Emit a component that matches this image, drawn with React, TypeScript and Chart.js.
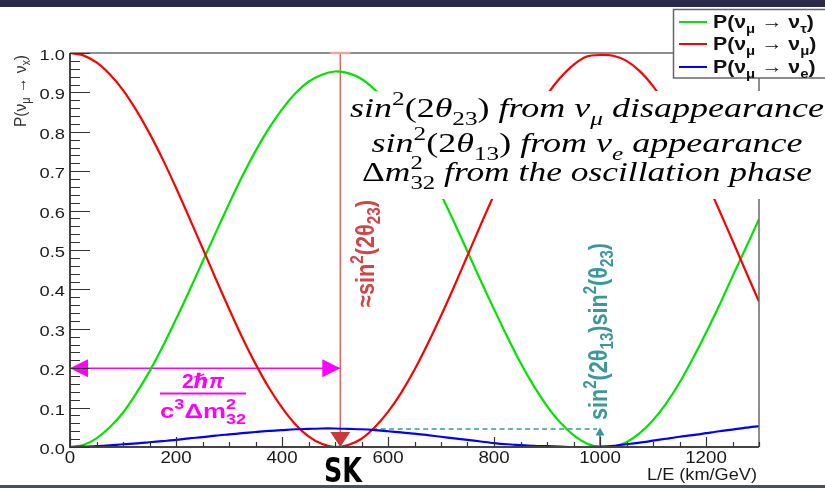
import { useEffect, useRef } from 'react';
import { Chart, registerables } from 'chart.js';

Chart.register(...registerables);

// L/E sampling (km/GeV)
const LE = [
  0, 25, 50, 75, 100, 125, 150, 175, 200, 225, 250, 275, 300, 325, 350, 375, 400, 425, 450, 475,
  500, 525, 550, 575, 600, 625, 650, 675, 700, 725, 750, 775, 800, 825, 850, 875, 900, 925, 950, 975,
  1000, 1025, 1050, 1075, 1100, 1125, 1150, 1175, 1200, 1225, 1250, 1275, 1300,
];

// P(nu_mu -> nu_tau)
const P_MU_TAU = [
  0.0, 0.005, 0.022, 0.05, 0.087, 0.136, 0.192, 0.255, 0.324, 0.396, 0.47, 0.544, 0.617, 0.687, 0.751, 0.808, 0.857, 0.897, 0.927, 0.945,
  0.953, 0.949, 0.934, 0.907, 0.871, 0.825, 0.77, 0.708, 0.641, 0.57, 0.496, 0.422, 0.35, 0.28, 0.214, 0.155, 0.104, 0.062, 0.03, 0.009,
  0.0, 0.001, 0.012, 0.035, 0.068, 0.111, 0.163, 0.224, 0.29, 0.359, 0.433, 0.505, 0.578,
];

// P(nu_mu -> nu_mu)
const P_MU_MU = [
  1.0, 0.994, 0.976, 0.946, 0.906, 0.855, 0.796, 0.73, 0.658, 0.582, 0.505, 0.427, 0.351, 0.278, 0.211, 0.151, 0.1, 0.058, 0.027, 0.008,
  0.0, 0.005, 0.021, 0.05, 0.089, 0.138, 0.196, 0.262, 0.333, 0.408, 0.486, 0.564, 0.64, 0.713, 0.781, 0.842, 0.894, 0.937, 0.97, 0.991,
  0.995, 0.993, 0.98, 0.954, 0.916, 0.868, 0.811, 0.746, 0.676, 0.601, 0.524, 0.446, 0.369,
];

// P(nu_mu -> nu_e)
const P_MU_E = [
  0.0, 0.001, 0.002, 0.004, 0.007, 0.009, 0.012, 0.015, 0.018, 0.022, 0.025, 0.029, 0.032, 0.035, 0.038, 0.041, 0.043, 0.045, 0.046, 0.047,
  0.047, 0.046, 0.045, 0.043, 0.04, 0.037, 0.034, 0.03, 0.026, 0.022, 0.018, 0.014, 0.01, 0.007, 0.005, 0.003, 0.002, 0.001, 0.0, 0.0,
  0.001, 0.003, 0.007, 0.011, 0.016, 0.021, 0.026, 0.03, 0.035, 0.04, 0.044, 0.049, 0.053,
];

const X_TICK_VALUES = [0, 200, 400, 600, 800, 1000, 1200];
const X_TICK_LABELS = ['0', '200', '400', '600', '800', '1000', '1200'];
const Y_TICK_VALUES = [0, 0.1, 0.2, 0.3, 0.4, 0.5, 0.6, 0.7, 0.8, 0.9, 1.0];
const Y_TICK_LABELS = ['0.0', '0.1', '0.2', '0.3', '0.4', '0.5', '0.6', '0.7', '0.8', '0.9', '1.0'];

// annotation values
const SK_LE = 510; // first oscillation maximum (Super-K baseline)
const PERIOD_ARROW_P = 0.2;
const NUE_LEVEL_P = 0.047;
const NUE_ARROW_LE = 1000;
const NUE_DASH_FROM_LE = 570;

const GREEN = '#00e400';
const RED = '#ff0000';
const BLUE = '#0000ff';
const MAGENTA = '#ff00ff';
const TEAL = '#3a9898';
const SK_RED = '#d04545';

const SANS = "'Liberation Sans', Arial, 'DejaVu Sans', sans-serif";
const SERIF = "'Liberation Serif', 'DejaVu Serif', serif";

type Run = { t?: string; it?: boolean; sup?: boolean; sub?: boolean; hi?: string; lo?: string };

interface RichOpts {
  x: number;
  y: number;
  size: number;
  family: string;
  bold?: boolean;
  color: string;
  align?: 'left' | 'center' | 'right';
  fit?: number;
  along?: number;
  sx?: number;
  rot?: number;
  subDrop?: number;
}

const fontOf = (size: number, it: boolean | undefined, bold: boolean | undefined, family: string) =>
  `${it ? 'italic ' : ''}${bold ? 'bold ' : ''}${size}px ${family}`;

function runWidth(ctx: CanvasRenderingContext2D, r: Run, o: RichOpts) {
  const small = o.size * 0.7;
  if (r.hi !== undefined || r.lo !== undefined) {
    ctx.font = fontOf(small, r.it, o.bold, o.family);
    return Math.max(ctx.measureText(r.hi || '').width, ctx.measureText(r.lo || '').width);
  }
  ctx.font = fontOf(r.sup || r.sub ? small : o.size, r.it, o.bold, o.family);
  return ctx.measureText(r.t || '').width;
}

function drawRich(ctx: CanvasRenderingContext2D, runs: Run[], o: RichOpts) {
  ctx.save();
  const widths = runs.map((r) => runWidth(ctx, r, o));
  const W = widths.reduce((a, b) => a + b, 0);
  const along = o.fit ? o.fit / W : o.along ?? 1;
  ctx.translate(o.x, o.y);
  ctx.scale(o.sx ?? 1, 1);
  if (o.rot) ctx.rotate(o.rot);
  ctx.scale(along, 1);
  let cx = o.align === 'right' ? -W : o.align === 'center' ? -W / 2 : 0;
  ctx.fillStyle = o.color;
  ctx.textBaseline = 'alphabetic';
  ctx.textAlign = 'left';
  const small = o.size * 0.7;
  const drop = o.subDrop ?? 0.25;
  runs.forEach((r, i) => {
    if (r.hi !== undefined || r.lo !== undefined) {
      ctx.font = fontOf(small, r.it, o.bold, o.family);
      if (r.hi) ctx.fillText(r.hi, cx, -o.size * 0.42);
      if (r.lo) ctx.fillText(r.lo, cx, o.size * 0.3);
    } else {
      ctx.font = fontOf(r.sup || r.sub ? small : o.size, r.it, o.bold, o.family);
      const dy = r.sup ? -o.size * 0.42 : r.sub ? o.size * drop : 0;
      ctx.fillText(r.t || '', cx, dy);
    }
    cx += widths[i];
  });
  ctx.restore();
}

const LEGEND_ENTRIES: { color: string; runs: Run[] }[] = [
  { color: GREEN, runs: [{ t: 'P(ν' }, { t: 'μ', sub: true }, { t: ' → ν' }, { t: 'τ', sub: true }, { t: ')' }] },
  { color: RED, runs: [{ t: 'P(ν' }, { t: 'μ', sub: true }, { t: ' → ν' }, { t: 'μ', sub: true }, { t: ')' }] },
  { color: BLUE, runs: [{ t: 'P(ν' }, { t: 'μ', sub: true }, { t: ' → ν' }, { t: 'e', sub: true }, { t: ')' }] },
];

const MEASUREMENT_LINES: { runs: Run[]; width: number; baseline: number }[] = [
  {
    runs: [
      { t: 'sin', it: true }, { t: '2', sup: true }, { t: '(2' }, { t: 'θ', it: true }, { t: '23', sub: true },
      { t: ') ' }, { t: 'from ν', it: true }, { t: 'μ', it: true, sub: true }, { t: ' disappearance', it: true },
    ],
    width: 474,
    baseline: 117,
  },
  {
    runs: [
      { t: 'sin', it: true }, { t: '2', sup: true }, { t: '(2' }, { t: 'θ', it: true }, { t: '13', sub: true },
      { t: ') ' }, { t: 'from ν', it: true }, { t: 'e', it: true, sub: true }, { t: ' appearance', it: true },
    ],
    width: 431,
    baseline: 152,
  },
  {
    runs: [{ t: 'Δ' }, { t: 'm', it: true }, { hi: '2', lo: '32' }, { t: ' from the oscillation phase', it: true }],
    width: 450,
    baseline: 181,
  },
];

const decor = {
  id: 'decor',
  beforeDraw(chart: Chart) {
    const ctx = chart.ctx;
    ctx.save();
    ctx.fillStyle = '#ffffff';
    ctx.fillRect(0, 0, chart.width, chart.height);
    ctx.restore();
  },
  beforeDatasetsDraw(chart: Chart) {
    const ctx = chart.ctx;
    const xs = chart.scales.x;
    const ys = chart.scales.y;
    const X = (v: number) => xs.getPixelForValue(v);
    const Y = (v: number) => ys.getPixelForValue(v);
    ctx.save();
    // oscillation period arrow
    ctx.strokeStyle = MAGENTA;
    ctx.lineWidth = 1.5;
    ctx.beginPath();
    ctx.moveTo(X(0), Y(PERIOD_ARROW_P));
    ctx.lineTo(X(SK_LE), Y(PERIOD_ARROW_P));
    ctx.stroke();
    // vertical marker at SK
    ctx.strokeStyle = '#e26262';
    ctx.lineWidth = 1.5;
    ctx.beginPath();
    ctx.moveTo(X(SK_LE), Y(1));
    ctx.lineTo(X(SK_LE), Y(0) - 12);
    ctx.stroke();
    // nu_e appearance level
    ctx.strokeStyle = TEAL;
    ctx.lineWidth = 1.5;
    ctx.setLineDash([5, 3.5]);
    ctx.beginPath();
    ctx.moveTo(X(NUE_DASH_FROM_LE), Y(NUE_LEVEL_P) + 0.5);
    ctx.lineTo(X(NUE_ARROW_LE) - 3, Y(NUE_LEVEL_P) + 0.5);
    ctx.stroke();
    ctx.restore();
  },
  afterDatasetsDraw(chart: Chart) {
    const ctx = chart.ctx;
    const xs = chart.scales.x;
    const ys = chart.scales.y;
    const X = (v: number) => xs.getPixelForValue(v);
    const Y = (v: number) => ys.getPixelForValue(v);
    const { left, right, top, bottom } = chart.chartArea;
    ctx.save();

    // magenta arrowheads
    ctx.fillStyle = MAGENTA;
    const ay = Y(PERIOD_ARROW_P);
    ctx.beginPath();
    ctx.moveTo(X(0), ay);
    ctx.lineTo(X(0) + 18, ay - 9);
    ctx.lineTo(X(0) + 18, ay + 9);
    ctx.closePath();
    ctx.fill();
    ctx.beginPath();
    ctx.moveTo(X(SK_LE), ay);
    ctx.lineTo(X(SK_LE) - 18, ay - 9);
    ctx.lineTo(X(SK_LE) - 18, ay + 9);
    ctx.closePath();
    ctx.fill();

    // downward arrowhead at SK
    ctx.fillStyle = '#c83a3a';
    ctx.beginPath();
    ctx.moveTo(X(SK_LE), Y(0));
    ctx.lineTo(X(SK_LE) - 10, Y(0) - 15);
    ctx.lineTo(X(SK_LE) + 10, Y(0) - 15);
    ctx.closePath();
    ctx.fill();

    // nu_e up arrow
    ctx.strokeStyle = TEAL;
    ctx.fillStyle = TEAL;
    ctx.lineWidth = 1.8;
    ctx.beginPath();
    ctx.moveTo(X(NUE_ARROW_LE), Y(0) - 1);
    ctx.lineTo(X(NUE_ARROW_LE), Y(NUE_LEVEL_P) + 6);
    ctx.stroke();
    ctx.beginPath();
    ctx.moveTo(X(NUE_ARROW_LE), Y(NUE_LEVEL_P) - 1);
    ctx.lineTo(X(NUE_ARROW_LE) - 4.5, Y(NUE_LEVEL_P) + 7);
    ctx.lineTo(X(NUE_ARROW_LE) + 4.5, Y(NUE_LEVEL_P) + 7);
    ctx.closePath();
    ctx.fill();

    // frame
    ctx.strokeStyle = '#6a6a6a';
    ctx.lineWidth = 1.5;
    ctx.beginPath();
    ctx.moveTo(left, top);
    ctx.lineTo(right, top);
    ctx.lineTo(right, bottom);
    ctx.stroke();
    ctx.strokeStyle = '#444';
    ctx.lineWidth = 2;
    ctx.beginPath();
    ctx.moveTo(left, top);
    ctx.lineTo(left, bottom);
    ctx.lineTo(right, bottom);
    ctx.stroke();

    // ticks
    ctx.strokeStyle = '#333';
    ctx.lineWidth = 1.2;
    ctx.beginPath();
    for (let i = 0; i <= 50; i++) {
      const py = Math.round(Y(i / 50)) + 0.5;
      const len = i % 5 === 0 ? 20 : 10;
      ctx.moveTo(left, py);
      ctx.lineTo(left + len, py);
    }
    for (let i = 0; i <= 26; i++) {
      const px = Math.round(X(i * 50)) + 0.5;
      const len = i % 4 === 0 ? 10 : 5;
      ctx.moveTo(px, bottom);
      ctx.lineTo(px, bottom - len);
    }
    ctx.stroke();

    // SK marker top cap
    ctx.strokeStyle = '#f2a4a4';
    ctx.lineWidth = 2.5;
    ctx.beginPath();
    ctx.moveTo(X(SK_LE) - 10, top);
    ctx.lineTo(X(SK_LE) + 10, top);
    ctx.stroke();

    // tick labels
    Y_TICK_VALUES.forEach((v, i) => {
      drawRich(ctx, [{ t: Y_TICK_LABELS[i] }], {
        x: left - 5, y: Y(v) + 7, size: 15, family: SANS, color: '#1a1a1a', align: 'right', along: 1.22,
      });
    });
    X_TICK_VALUES.forEach((v, i) => {
      drawRich(ctx, [{ t: X_TICK_LABELS[i] }], {
        x: X(v), y: 462.5, size: 16, family: SANS, color: '#1a1a1a', align: 'center', along: 1.17,
      });
    });

    // axis titles
    drawRich(ctx, [{ t: 'L/E (km/GeV)' }], {
      x: right - 2, y: 480, size: 16.5, family: SANS, color: '#1a1a1a', align: 'right', fit: 110,
    });
    drawRich(ctx, [{ t: 'P(ν' }, { t: 'μ', sub: true }, { t: ' → ν' }, { t: 'x', sub: true }, { t: ')' }], {
      x: 25.5, y: top + 2, size: 15, family: SANS, color: '#333', align: 'right', fit: 72, sx: 1.15, rot: -Math.PI / 2,
    });

    // rotated annotations
    drawRich(ctx, [{ t: '≈sin' }, { t: '2', sup: true }, { t: '(2θ' }, { t: '23', sub: true }, { t: ')' }], {
      x: 374, y: 307, size: 22, family: SANS, bold: true, color: SK_RED, align: 'left', fit: 107, sx: 1.15, rot: -Math.PI / 2,
    });
    drawRich(
      ctx,
      [
        { t: 'sin' }, { t: '2', sup: true }, { t: '(2θ' }, { t: '13', sub: true }, { t: ')sin' }, { t: '2', sup: true },
        { t: '(θ' }, { t: '23', sub: true }, { t: ')' },
      ],
      { x: 606.5, y: 420, size: 22, family: SANS, bold: true, color: TEAL, align: 'left', fit: 177, sx: 1.15, rot: -Math.PI / 2 },
    );

    // oscillation length formula
    drawRich(ctx, [{ t: '2' }, { t: 'ℏπ', it: true }], {
      x: 203, y: 388, size: 20, family: SANS, bold: true, color: MAGENTA, align: 'center', fit: 42,
    });
    ctx.strokeStyle = MAGENTA;
    ctx.lineWidth = 2;
    ctx.beginPath();
    ctx.moveTo(160, 393.5);
    ctx.lineTo(246, 393.5);
    ctx.stroke();
    drawRich(ctx, [{ t: 'c' }, { t: '3', sup: true }, { t: 'Δm' }, { hi: '2', lo: '32' }], {
      x: 203, y: 418, size: 21, family: SANS, bold: true, color: MAGENTA, align: 'center', fit: 86,
    });

    // measurement summary box
    ctx.fillStyle = '#ffffff';
    ctx.fillRect(345, 91, 480, 108);
    MEASUREMENT_LINES.forEach((ln) => {
      drawRich(ctx, ln.runs, {
        x: 587, y: ln.baseline, size: 28, family: SERIF, color: '#000', align: 'center', fit: ln.width, subDrop: 0.3,
      });
    });

    // legend
    ctx.fillStyle = '#ffffff';
    ctx.fillRect(673, 9, 160, 69);
    ctx.strokeStyle = '#666';
    ctx.lineWidth = 1.5;
    ctx.strokeRect(673.5, 9.5, 170, 68.5);
    const legendY = [22, 44, 67];
    LEGEND_ENTRIES.forEach((e, i) => {
      ctx.strokeStyle = e.color;
      ctx.lineWidth = 2;
      ctx.beginPath();
      ctx.moveTo(679, legendY[i]);
      ctx.lineTo(707, legendY[i]);
      ctx.stroke();
      drawRich(ctx, e.runs, {
        x: 713, y: legendY[i] + 6, size: 19, family: SANS, bold: true, color: '#111', align: 'left', along: 1.12,
      });
    });

    // detector label
    drawRich(ctx, [{ t: 'SK' }], {
      x: 343, y: 482, size: 34, family: "'DejaVu Sans', sans-serif", bold: true, color: '#000', align: 'center', fit: 38,
    });

    // window bands
    ctx.fillStyle = '#2a2948';
    ctx.fillRect(0, 0, chart.width, 7);
    ctx.fillStyle = '#4a5064';
    ctx.fillRect(0, 485, chart.width, 3);
    ctx.restore();
  },
};

export default function App() {
  const canvasRef = useRef<HTMLCanvasElement | null>(null);

  useEffect(() => {
    const canvas = canvasRef.current;
    if (!canvas) return;
    const toPoints = (ys: number[]) => LE.map((x, i) => ({ x, y: ys[i] }));
    const chart = new Chart(canvas, {
      type: 'line',
      data: {
        datasets: [
          { label: 'P(νμ → νe)', data: toPoints(P_MU_E), borderColor: BLUE, borderWidth: 2.2, pointRadius: 0, tension: 0.3, fill: false },
          { label: 'P(νμ → νμ)', data: toPoints(P_MU_MU), borderColor: RED, borderWidth: 2.2, pointRadius: 0, tension: 0.3, fill: false },
          { label: 'P(νμ → ντ)', data: toPoints(P_MU_TAU), borderColor: GREEN, borderWidth: 2.2, pointRadius: 0, tension: 0.3, fill: false },
        ],
      },
      options: {
        responsive: false,
        animation: false,
        devicePixelRatio: 1,
        events: [],
        layout: { padding: { left: 70, right: 66, top: 53, bottom: 41 } },
        scales: {
          x: { type: 'linear', min: 0, max: 1300, display: false },
          y: { type: 'linear', min: 0, max: 1, display: false },
        },
        plugins: { legend: { display: false }, tooltip: { enabled: false } },
      },
      plugins: [decor],
    });
    return () => chart.destroy();
  }, []);

  return (
    <div style={{ position: 'fixed', left: 0, top: 0, width: 825, height: 488, background: '#fff' }}>
      <canvas ref={canvasRef} width={825} height={488} style={{ display: 'block', width: 825, height: 488 }} />
    </div>
  );
}
